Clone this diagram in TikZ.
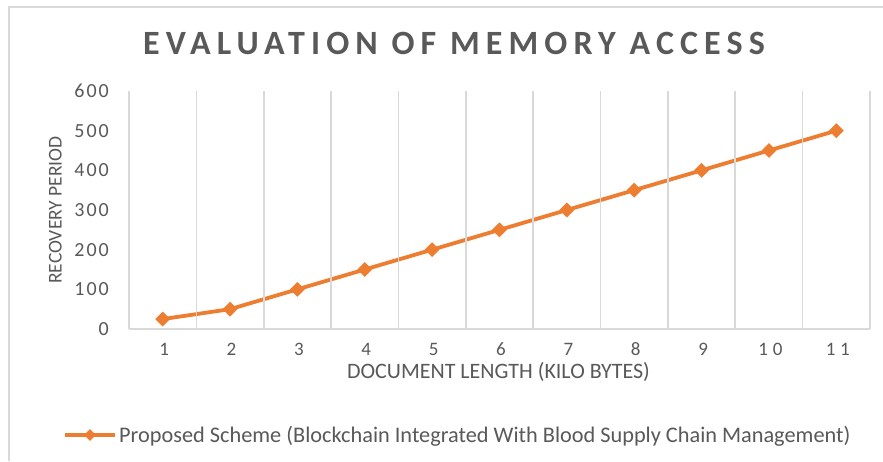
\documentclass[tikz,border=0pt]{standalone}
\usepackage{fontspec}
\setmainfont{Carlito}
\newfontfamily\titlefont[LetterSpace=18]{Carlito}
\newfontfamily\ytickfont[LetterSpace=10]{Carlito}
\newfontfamily\xtickfont[LetterSpace=25]{Carlito}
\usetikzlibrary{shapes.geometric,backgrounds}
\definecolor{txt}{HTML}{595959}
\definecolor{gridc}{HTML}{D9D9D9}
\definecolor{seriesc}{HTML}{ED7D31}
\tikzset{
  gridline/.style={draw=gridc, line width=1.6pt},
  frameline/.style={draw=gridc, line width=2pt},
  seriesline/.style={draw=seriesc, line width=3.8pt, line join=round},
  marker/.style={diamond, fill=seriesc, inner sep=0pt, minimum size=15pt},
  legendmarker/.style={diamond, fill=seriesc, inner sep=0pt, minimum size=12pt},
  lbl/.style={text=txt, inner sep=0pt},
}
\begin{document}
\begin{tikzpicture}[x=1pt,y=-1pt]
\useasboundingbox (0,0) rectangle (883,461);
% chart frame (top and left edges)
\draw[frameline] (9,461) -- (9,7) -- (883,7);

% title
\node[lbl, anchor=base, font=\titlefont\bfseries\fontsize{34}{34}\selectfont] (title) at (454,54) {EVALUATION OF MEMORY ACCESS};

% vertical gridlines at category boundaries
\foreach \k in {0,...,11}
  \draw[gridline] (129+67.36*\k,91) -- (129+67.36*\k,329);
% category axis
\draw[gridline] (129,329) -- (870,329);

% value axis labels
\foreach \v in {0,100,...,600}
  \node[lbl, anchor=base east, font=\ytickfont\fontsize{20}{20}\selectfont] (yt\v) at (109,{329-\v*0.39667+6.5}) {\v};

% category labels
\foreach \i in {1,...,11}
  \node[lbl, anchor=base, text depth=0pt, font=\xtickfont\fontsize{19}{19}\selectfont] (xt\i) at ({129+67.36*(\i-0.5)+1.5},355) {\i};

% axis titles
\node[lbl, anchor=base, text height=14pt, text depth=4pt, font=\fontsize{22}{22}\selectfont] (xtitle) at (498.5,378) {DOCUMENT LENGTH (KILO BYTES)};
\node[lbl, anchor=base, rotate=90, font=\fontsize{19.5}{19.5}\selectfont] (ytitle) at (61.5,210) {RECOVERY PERIOD};

% data points
\foreach \i/\v in {1/25,2/50,3/100,4/150,5/200,6/250,7/300,8/350,9/400,10/450,11/500}
  \node[marker] (p\i) at ({129+67.36*(\i-0.5)},{329-\v*0.39667}) {};
\begin{pgfonlayer}{background}
\fill[white] (0,0) rectangle (883,461);
\draw[seriesline] (p1.center) -- (p2.center) -- (p3.center) -- (p4.center) -- (p5.center) -- (p6.center) -- (p7.center) -- (p8.center) -- (p9.center) -- (p10.center) -- (p11.center);
\end{pgfonlayer}

% legend
\coordinate (la) at (65,435);
\coordinate (lb) at (115,435);
\draw[seriesline] (la) -- (lb);
\node[legendmarker] (lm) at (90,435) {};
\node[lbl, anchor=base west, font=\fontsize{22.3}{22.3}\selectfont] (ltext) at (119,442) {Proposed Scheme (Blockchain Integrated With Blood Supply Chain Management)};
\end{tikzpicture}
\end{document}
